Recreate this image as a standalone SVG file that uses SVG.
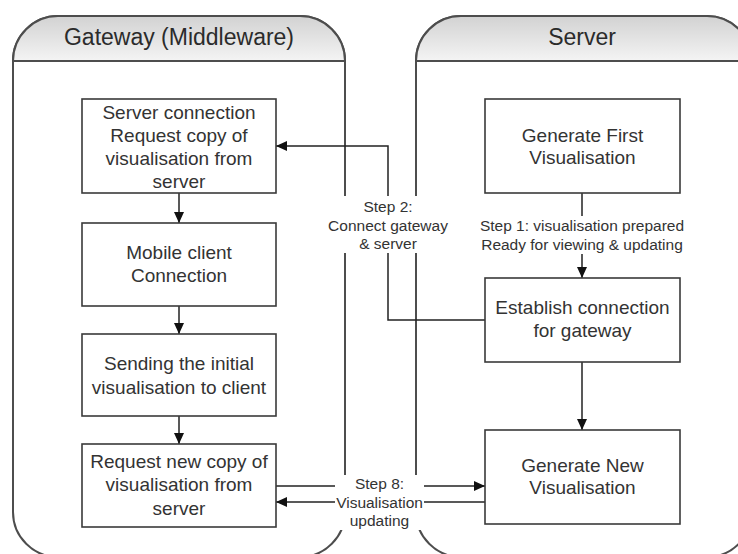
<svg xmlns="http://www.w3.org/2000/svg" width="738" height="554" viewBox="0 0 738 554">
<style>
.lane{fill:#fff;stroke:#4d4d4d;stroke-width:2}
.hdr{fill:url(#hg);stroke:#4d4d4d;stroke-width:2}
.ht{font-family:"Liberation Sans",Arial,sans-serif;font-size:23px;fill:#2b2b2b;text-anchor:middle}
.box{fill:#fff;stroke:#3a3a3a;stroke-width:1.6}
.bt{font-family:"Liberation Sans",Arial,sans-serif;font-size:19px;fill:#333;text-anchor:middle}
.lt{font-family:"Liberation Sans",Arial,sans-serif;font-size:15.5px;fill:#333;text-anchor:middle}
.con{fill:none;stroke:#222;stroke-width:1.5}
.bg{fill:#fff;stroke:none}
</style>
<defs>
<linearGradient id="hg" x1="0" y1="0" x2="0" y2="1">
<stop offset="0" stop-color="#d2d2d2"/>
<stop offset="1" stop-color="#f4f4f4"/>
</linearGradient>
<marker id="ah" markerUnits="userSpaceOnUse" markerWidth="12" markerHeight="10" refX="11" refY="5" orient="auto">
<path d="M0,0 L11,5 L0,10 Z" fill="#111"/>
</marker>
</defs>

<g id="lane-gateway">
<path class="lane" d="M13,61 A45,45 0 0 1 58,16 H300 A45,45 0 0 1 345,61 V512 A45,45 0 0 1 300,557 H58 A45,45 0 0 1 13,512 Z"/>
<path class="hdr" d="M13,61 A45,45 0 0 1 58,16 H300 A45,45 0 0 1 345,61 Z"/>
<text class="ht" x="179" y="45">Gateway (Middleware)</text>
</g>
<g id="lane-server">
<path class="lane" d="M416,61 A45,45 0 0 1 461,16 H707 A45,45 0 0 1 752,61 V512 A45,45 0 0 1 707,557 H461 A45,45 0 0 1 416,512 Z"/>
<path class="hdr" d="M416,61 A45,45 0 0 1 461,16 H707 A45,45 0 0 1 752,61 Z"/>
<text class="ht" x="582" y="45">Server</text>
</g>

<g id="connectors">
<path class="con" d="M179,193 V223" marker-end="url(#ah)"/>
<path class="con" d="M179,306 V334" marker-end="url(#ah)"/>
<path class="con" d="M179,416 V444" marker-end="url(#ah)"/>
<path class="con" d="M582,193 V278" marker-end="url(#ah)"/>
<path class="con" d="M582,362 V430" marker-end="url(#ah)"/>
<path class="con" d="M485,320 H388 V146 H276" marker-end="url(#ah)"/>
<path class="con" d="M276,486 H485" marker-end="url(#ah)"/>
<path class="con" d="M485,502 H276" marker-end="url(#ah)"/>
<g id="label-step1">
<rect class="bg" x="477" y="216" width="210" height="38"/>
<text class="lt" x="582" y="230.5">Step 1: visualisation prepared</text>
<text class="lt" x="582" y="249.5">Ready for viewing &amp; updating</text>
</g>
<g id="label-step2">
<rect class="bg" x="325" y="196" width="126" height="57"/>
<text class="lt" x="388" y="211.5">Step 2:</text>
<text class="lt" x="388" y="230.5">Connect gateway</text>
<text class="lt" x="388" y="248.5">&amp; server</text>
</g>
<g id="label-step8">
<rect class="bg" x="335" y="475" width="89" height="55"/>
<text class="lt" x="379.5" y="488.5">Step 8:</text>
<text class="lt" x="379.5" y="507.5">Visualisation</text>
<text class="lt" x="379.5" y="525.5">updating</text>
</g>
</g>

<g id="n-server-connection">
<rect class="box" x="82" y="99" width="194" height="94"/>
<text class="bt" x="179" y="119">Server connection</text>
<text class="bt" x="179" y="142">Request copy of</text>
<text class="bt" x="179" y="165">visualisation from</text>
<text class="bt" x="179" y="188">server</text>
</g>
<g id="n-mobile-client">
<rect class="box" x="82" y="223" width="194" height="83"/>
<text class="bt" x="179" y="259">Mobile client</text>
<text class="bt" x="179" y="282">Connection</text>
</g>
<g id="n-sending-initial">
<rect class="box" x="82" y="334" width="194" height="82"/>
<text class="bt" x="179" y="370">Sending the initial</text>
<text class="bt" x="179" y="393.5">visualisation to client</text>
</g>
<g id="n-request-new">
<rect class="box" x="82" y="444" width="194" height="83"/>
<text class="bt" x="179" y="468">Request new copy of</text>
<text class="bt" x="179" y="491">visualisation from</text>
<text class="bt" x="179" y="515">server</text>
</g>
<g id="n-generate-first">
<rect class="box" x="485" y="99" width="195" height="94"/>
<text class="bt" x="582.5" y="142">Generate First</text>
<text class="bt" x="582.5" y="164">Visualisation</text>
</g>
<g id="n-establish">
<rect class="box" x="485" y="278" width="195" height="84"/>
<text class="bt" x="582.5" y="314">Establish connection</text>
<text class="bt" x="582.5" y="337">for gateway</text>
</g>
<g id="n-generate-new">
<rect class="box" x="485" y="430" width="195" height="94"/>
<text class="bt" x="582.5" y="472">Generate New</text>
<text class="bt" x="582.5" y="494">Visualisation</text>
</g>
</svg>
